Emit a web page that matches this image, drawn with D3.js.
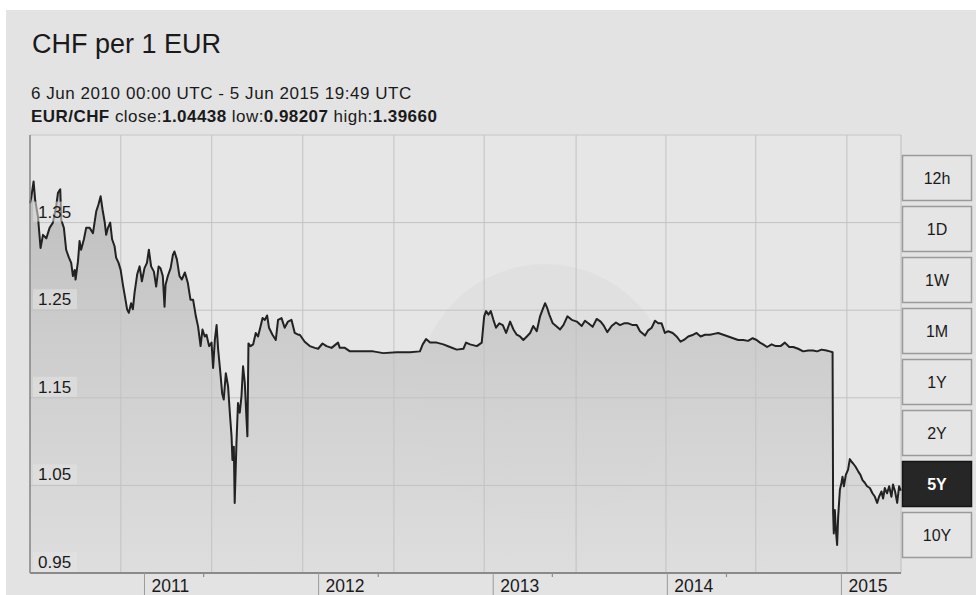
<!DOCTYPE html>
<html>
<head>
<meta charset="utf-8">
<script src="https://cdn.jsdelivr.net/npm/d3@7/dist/d3.min.js"></script>
<style>
  html, body { margin: 0; padding: 0; background: #ffffff; }
  svg { display: block; font-family: "Liberation Sans", Arial, Helvetica, sans-serif; }
</style>
</head>
<body>
<svg id="chart" width="976" height="595"></svg>
<script>
// ---------------- DATA ----------------
const title = "CHF per 1 EUR";
const subtitle = "6 Jun 2010 00:00 UTC - 5 Jun 2015 19:49 UTC";
const pairName = "EUR/CHF";
const statLabels = ["close:", "low:", "high:"];
const statValues = ["1.04438", "0.98207", "1.39660"];
const rangeStart = "2010-06-06T00:00:00Z";
const rangeEnd = "2015-06-05T19:49:00Z";

// dates as decimal years
const dates = [
2010.427,2010.434,2010.448,2010.457,2010.473,2010.488,2010.502,2010.521,2010.540,2010.559,
2010.578,2010.588,2010.601,2010.607,2010.622,2010.635,2010.651,2010.664,2010.674,2010.684,
2010.689,2010.703,2010.712,2010.721,2010.737,2010.750,2010.770,2010.789,2010.808,2010.821,
2010.833,2010.844,2010.856,2010.865,2010.875,2010.888,2010.899,2010.913,2010.922,2010.936,
2010.948,2010.961,2010.974,2010.985,2010.995,2011.008,2011.018,2011.028,2011.043,2011.057,
2011.070,2011.085,2011.099,2011.110,2011.123,2011.139,2011.152,2011.166,2011.177,2011.190,
2011.200,2011.206,2011.219,2011.235,2011.248,2011.257,2011.271,2011.286,2011.299,2011.317,
2011.334,2011.349,2011.364,2011.380,2011.393,2011.407,2011.418,2011.431,2011.441,2011.456,
2011.470,2011.479,2011.489,2011.499,2011.508,2011.521,2011.531,2011.540,2011.552,2011.565,
2011.575,2011.585,2011.590,2011.598,2011.603,2011.613,2011.622,2011.632,2011.642,2011.651,
2011.661,2011.671,2011.676,2011.682,2011.694,2011.709,2011.724,2011.737,2011.751,2011.763,
2011.776,2011.789,2011.800,2011.820,2011.839,2011.852,2011.872,2011.890,2011.909,2011.929,
2011.948,2011.967,2011.977,2012.005,2012.034,2012.063,2012.082,2012.107,2012.130,2012.159,
2012.196,2012.206,2012.235,2012.264,2012.321,2012.397,2012.455,2012.532,2012.608,2012.665,
2012.681,2012.700,2012.723,2012.761,2012.799,2012.837,2012.876,2012.914,2012.929,2012.952,
2012.991,2013.019,2013.033,2013.044,2013.057,2013.071,2013.086,2013.101,2013.120,2013.140,
2013.159,2013.182,2013.201,2013.220,2013.239,2013.258,2013.278,2013.297,2013.315,2013.335,
2013.354,2013.369,2013.383,2013.396,2013.407,2013.427,2013.446,2013.469,2013.488,2013.511,
2013.536,2013.565,2013.593,2013.612,2013.631,2013.656,2013.679,2013.702,2013.721,2013.740,
2013.765,2013.790,2013.813,2013.836,2013.861,2013.886,2013.909,2013.928,2013.957,2013.975,
2013.995,2014.014,2014.033,2014.052,2014.071,2014.090,2014.116,2014.138,2014.161,2014.180,
2014.205,2014.234,2014.253,2014.276,2014.301,2014.330,2014.353,2014.377,2014.406,2014.435,
2014.463,2014.492,2014.521,2014.549,2014.575,2014.598,2014.617,2014.635,2014.658,2014.684,
2014.708,2014.735,2014.760,2014.785,2014.808,2014.836,2014.865,2014.894,2014.922,2014.945,
2014.971,2014.999,2015.018,2015.034,2015.037,2015.041,2015.047,2015.053,2015.060,2015.066,
2015.076,2015.085,2015.091,2015.099,2015.110,2015.123,2015.133,2015.143,2015.152,2015.167,
2015.181,2015.194,2015.206,2015.219,2015.232,2015.248,2015.263,2015.277,2015.290,2015.301,
2015.315,2015.324,2015.334,2015.347,2015.359,2015.372,2015.381,2015.393,2015.405,2015.416,
2015.426
];
const values = [
1.372,1.378,1.397,1.376,1.357,1.321,1.336,1.332,1.344,1.350,
1.369,1.384,1.388,1.353,1.344,1.319,1.310,1.304,1.289,1.296,
1.285,1.306,1.329,1.319,1.331,1.344,1.344,1.338,1.363,1.371,
1.380,1.365,1.351,1.336,1.344,1.350,1.331,1.323,1.310,1.304,
1.296,1.279,1.264,1.251,1.247,1.258,1.251,1.270,1.291,1.300,
1.283,1.298,1.304,1.319,1.300,1.294,1.277,1.300,1.298,1.289,
1.254,1.279,1.289,1.298,1.313,1.317,1.308,1.289,1.285,1.293,
1.281,1.262,1.262,1.243,1.231,1.209,1.228,1.220,1.222,1.209,
1.213,1.184,1.216,1.233,1.205,1.178,1.155,1.148,1.178,1.163,
1.133,1.106,1.079,1.094,1.030,1.098,1.144,1.133,1.152,1.186,
1.167,1.125,1.106,1.212,1.209,1.211,1.224,1.220,1.231,1.241,
1.239,1.244,1.230,1.222,1.216,1.239,1.241,1.230,1.237,1.239,
1.224,1.222,1.222,1.214,1.209,1.207,1.206,1.212,1.209,1.207,
1.213,1.207,1.207,1.203,1.203,1.203,1.201,1.202,1.202,1.203,
1.211,1.217,1.213,1.213,1.211,1.208,1.205,1.206,1.213,1.211,
1.209,1.213,1.243,1.249,1.245,1.249,1.239,1.230,1.235,1.233,
1.224,1.237,1.228,1.222,1.220,1.216,1.220,1.224,1.232,1.226,
1.243,1.251,1.258,1.252,1.245,1.235,1.232,1.228,1.233,1.243,
1.239,1.237,1.232,1.238,1.235,1.231,1.240,1.237,1.232,1.225,
1.232,1.236,1.233,1.235,1.235,1.233,1.233,1.226,1.221,1.227,
1.230,1.238,1.235,1.235,1.224,1.226,1.224,1.220,1.214,1.216,
1.220,1.222,1.224,1.220,1.222,1.222,1.223,1.224,1.222,1.220,
1.218,1.216,1.216,1.215,1.218,1.216,1.213,1.211,1.208,1.211,
1.209,1.209,1.213,1.208,1.208,1.206,1.203,1.204,1.204,1.203,
1.205,1.204,1.203,1.202,1.020,0.995,1.022,0.999,0.982,1.014,
1.045,1.053,1.060,1.049,1.062,1.068,1.080,1.077,1.075,1.071,
1.066,1.062,1.056,1.053,1.049,1.047,1.041,1.037,1.030,1.037,
1.043,1.035,1.047,1.041,1.049,1.037,1.051,1.043,1.030,1.049,
1.044
];

const yTicks = [0.95, 1.05, 1.15, 1.25, 1.35];
const yTickLabels = ["0.95", "1.05", "1.15", "1.25", "1.35"];
const yDomain = [0.95, 1.45];
const gridYears = [2010.949, 2011.471, 2011.994, 2012.516, 2013.033, 2013.561, 2014.077, 2014.593, 2015.116];
const yearTickDates = ["2011-02-01", "2012-02-01", "2013-02-01", "2014-02-01", "2015-02-01"];
const yearTickLabels = ["2011", "2012", "2013", "2014", "2015"];
const minorTickDates = ["2011-06-05", "2012-06-05", "2013-06-05", "2014-06-05"];
const buttons = ["12h", "1D", "1W", "1M", "1Y", "2Y", "5Y", "10Y"];
const activeButton = "5Y";

// ---------------- HELPERS ----------------
function yearToDate(t) {
  const y = Math.floor(t);
  const s = Date.UTC(y, 0, 1), e = Date.UTC(y + 1, 0, 1);
  return new Date(s + (t - y) * (e - s));
}
const series = dates.map((t, i) => ({ date: yearToDate(t), value: values[i] }));

// ---------------- LAYOUT ----------------
const svg = d3.select("#chart");
const W = 976, H = 595;
const plot = { left: 30, right: 901, top: 135, bottom: 573 };

const x = d3.scaleUtc()
  .domain([new Date(rangeStart), new Date(rangeEnd)])
  .range([plot.left, plot.right]);
const y = d3.scaleLinear().domain(yDomain).range([plot.bottom, plot.top]);

// panel background
svg.append("rect").attr("x", 0).attr("y", 0).attr("width", W).attr("height", H).attr("fill", "#ffffff");
svg.append("rect").attr("x", 6).attr("y", 10).attr("width", W - 6).attr("height", H - 10).attr("fill", "#e3e3e3");

// titles
svg.append("text").attr("x", 32).attr("y", 53)
  .attr("font-size", 27).attr("fill", "#1a1a1a").text(title);
svg.append("text").attr("x", 31).attr("y", 99)
  .attr("font-size", 17).attr("letter-spacing", 0.55).attr("fill", "#1a1a1a").text(subtitle);
const info = svg.append("text").attr("x", 31).attr("y", 122)
  .attr("font-size", 17).attr("letter-spacing", 0.45).attr("fill", "#1a1a1a");
info.append("tspan").attr("font-weight", "bold").text(pairName + " ");
statLabels.forEach((l, i) => {
  info.append("tspan").text(l);
  info.append("tspan").attr("font-weight", "bold").text(statValues[i] + (i < statLabels.length - 1 ? " " : ""));
});

// plot background
svg.append("rect").attr("x", plot.left).attr("y", plot.top)
  .attr("width", plot.right - plot.left).attr("height", plot.bottom - plot.top)
  .attr("fill", "#e6e6e6");

// faint watermark
const wm = svg.append("g");
wm.append("circle").attr("cx", 545).attr("cy", 392).attr("r", 128).attr("fill", "#000").attr("opacity", 0.022);
wm.append("ellipse").attr("cx", 560).attr("cy", 360).attr("rx", 70).attr("ry", 45).attr("fill", "#fff").attr("opacity", 0.05);

// gradient for area
const defs = svg.append("defs");
const grad = defs.append("linearGradient").attr("id", "fillGrad")
  .attr("gradientUnits", "userSpaceOnUse")
  .attr("x1", 0).attr("x2", 0).attr("y1", plot.top).attr("y2", plot.bottom);
grad.append("stop").attr("offset", "0%").attr("stop-color", "#b8b8b8");
grad.append("stop").attr("offset", "45%").attr("stop-color", "#cbcbcb");
grad.append("stop").attr("offset", "100%").attr("stop-color", "#dddddd");

const area = d3.area().x(d => x(d.date)).y0(plot.bottom).y1(d => y(d.value));
svg.append("path").datum(series).attr("d", area).attr("fill", "url(#fillGrad)").attr("opacity", 0.95);

// grid lines
svg.append("g").selectAll("line").data(gridYears).join("line")
  .attr("x1", d => x(yearToDate(d))).attr("x2", d => x(yearToDate(d)))
  .attr("y1", plot.top).attr("y2", plot.bottom)
  .attr("stroke", "#c2c2c2").attr("stroke-width", 1);
svg.append("g").selectAll("line").data(yTicks.slice(1)).join("line")
  .attr("x1", plot.left).attr("x2", plot.right)
  .attr("y1", d => y(d)).attr("y2", d => y(d))
  .attr("stroke", "#c2c2c2").attr("stroke-width", 1);

// borders
svg.append("line").attr("x1", plot.left).attr("x2", plot.right).attr("y1", plot.top).attr("y2", plot.top)
  .attr("stroke", "#c6c6c6");
svg.append("line").attr("x1", plot.right).attr("x2", plot.right).attr("y1", plot.top).attr("y2", plot.bottom)
  .attr("stroke", "#bebebe");

// line
const line = d3.line().x(d => x(d.date)).y(d => y(d.value));
svg.append("path").datum(series).attr("d", line)
  .attr("fill", "none").attr("stroke", "#222222").attr("stroke-width", 2)
  .attr("stroke-linejoin", "round");

// left + bottom axis lines
svg.append("line").attr("x1", plot.left).attr("x2", plot.left).attr("y1", plot.top).attr("y2", plot.bottom)
  .attr("stroke", "#858585").attr("stroke-width", 1.5);
svg.append("line").attr("x1", plot.left).attr("x2", plot.right).attr("y1", plot.bottom).attr("y2", plot.bottom)
  .attr("stroke", "#8a8a8a").attr("stroke-width", 2);

// y labels with boxes
const yl = svg.append("g").selectAll("g").data(yTicks).join("g")
  .attr("transform", d => `translate(${plot.left + 3},${y(d)})`);
yl.append("rect").attr("x", 0).attr("y", -21).attr("width", 44).attr("height", 20)
  .attr("fill", "#e4e4e4").attr("opacity", 0.55);
yl.append("text").attr("x", 5).attr("y", -5).attr("font-size", 17).attr("fill", "#1a1a1a")
  .text((d, i) => yTickLabels[i]);

// x year ticks + labels
const xt = svg.append("g").selectAll("g").data(yearTickDates).join("g")
  .attr("transform", d => `translate(${x(new Date(d + "T00:00:00Z"))},${plot.bottom})`);
xt.append("line").attr("x1", 0).attr("x2", 0).attr("y1", 0).attr("y2", 22)
  .attr("stroke", "#9a9a9a").attr("stroke-width", 1);
xt.append("text").attr("x", 7).attr("y", 19).attr("font-size", 17.5).attr("fill", "#1a1a1a")
  .text((d, i) => yearTickLabels[i]);
svg.append("g").selectAll("line").data(minorTickDates).join("line")
  .attr("x1", d => x(new Date(d + "T00:00:00Z"))).attr("x2", d => x(new Date(d + "T00:00:00Z")))
  .attr("y1", plot.bottom).attr("y2", plot.bottom + 4)
  .attr("stroke", "#8e8e8e").attr("stroke-width", 1.2);

// range buttons
const bx = 902, bw = 69, bh = 45, by0 = 155.5, bstep = 51;
const bg = svg.append("g").selectAll("g").data(buttons).join("g")
  .attr("transform", (d, i) => `translate(${bx},${by0 + i * bstep})`);
bg.append("rect").attr("x", 0.5).attr("y", 0).attr("width", bw).attr("height", bh)
  .attr("fill", d => d === activeButton ? "#262626" : "#e5e5e5")
  .attr("stroke", d => d === activeButton ? "#151515" : "#9a9a9a").attr("stroke-width", 1.5);
bg.append("text").attr("x", bw / 2 + 0.5).attr("y", bh / 2 + 6).attr("text-anchor", "middle")
  .attr("font-size", 16)
  .attr("font-weight", d => d === activeButton ? "bold" : "normal")
  .attr("fill", d => d === activeButton ? "#ffffff" : "#1a1a1a")
  .text(d => d);
</script>
</body>
</html>
